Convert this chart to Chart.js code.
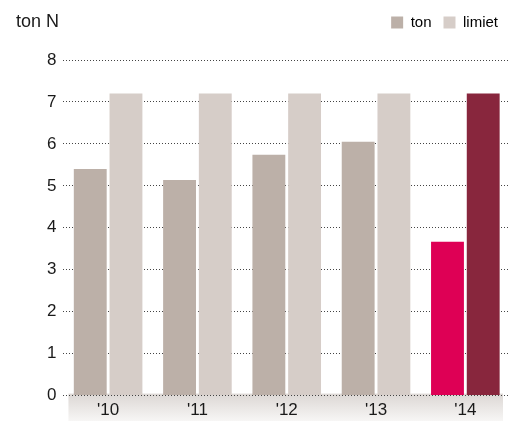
<!DOCTYPE html>
<html>
<head>
<meta charset="utf-8">
<script src="https://cdn.jsdelivr.net/npm/chart.js@4"></script>
<style>
  html, body { margin: 0; padding: 0; background: #fff; }
  #wrap { position: relative; width: 512px; height: 421px; }
  #unit { position: absolute; left: 16px; top: 11px; font: 18px "Liberation Sans", Arial, sans-serif; color: #1a1a1a; }
  canvas { display: block; }
</style>
</head>
<body>
<div id="wrap">
  <div id="unit">ton N</div>
  <canvas id="chart" width="512" height="421"></canvas>
</div>
<script>
// data
const years = ["'10", "'11", "'12", "'13", "'14"];
const ton = [5.4, 5.14, 5.74, 6.05, 3.67];
const limiet = [7.2, 7.2, 7.2, 7.2, 7.2];
const yTicks = [0, 1, 2, 3, 4, 5, 6, 7, 8];

const tonColors = ["#bcb0a8", "#bcb0a8", "#bcb0a8", "#bcb0a8", "#de0055"];
const limietColors = ["#d6cdc8", "#d6cdc8", "#d6cdc8", "#d6cdc8", "#88263d"];

const FONT = "'Liberation Sans', Arial, sans-serif";

// grey band behind the x labels
const axisBand = {
  id: "axisBand",
  beforeDraw(chart) {
    const { ctx, chartArea } = chart;
    const top = chartArea.bottom - 2;
    const g = ctx.createLinearGradient(0, top, 0, chart.height);
    g.addColorStop(0, "#dcd7d4");
    g.addColorStop(1, "#f7f6f5");
    ctx.save();
    ctx.fillStyle = g;
    ctx.fillRect(chartArea.left + 5, top, chartArea.right - chartArea.left - 12, chart.height - top);
    ctx.restore();
  }
};

// extra space under the legend
const legendGap = {
  id: "legendGap",
  beforeInit(chart) {
    const fit = chart.legend.fit;
    chart.legend.fit = function () {
      fit.bind(chart.legend)();
      this.height += 20;
    };
  }
};

new Chart(document.getElementById("chart").getContext("2d"), {
  type: "bar",
  data: {
    labels: years,
    datasets: [
      { label: "ton", data: ton, backgroundColor: tonColors },
      { label: "limiet", data: limiet, backgroundColor: limietColors }
    ]
  },
  options: {
    responsive: false,
    animation: false,
    categoryPercentage: 0.8,
    barPercentage: 0.92,
    layout: { padding: { top: 3, right: 2, left: 40, bottom: -5 } },
    plugins: {
      tooltip: { enabled: false },
      legend: {
        position: "top",
        align: "end",
        labels: {
          boxWidth: 12,
          boxHeight: 12,
          padding: 12,
          color: "#1a1a1a",
          font: { family: FONT, size: 15 },
          generateLabels: () => [
            { text: "ton", fillStyle: tonColors[0], strokeStyle: tonColors[0], lineWidth: 0, datasetIndex: 0 },
            { text: "limiet", fillStyle: limietColors[0], strokeStyle: limietColors[0], lineWidth: 0, datasetIndex: 1 }
          ]
        }
      }
    },
    scales: {
      x: {
        grid: { display: false, drawTicks: false },
        border: { display: false },
        ticks: { color: "#1a1a1a", font: { family: FONT, size: 17 }, padding: 5 }
      },
      y: {
        min: 0,
        max: 8,
        afterBuildTicks: axis => { axis.ticks = yTicks.map(v => ({ value: v })); },
        grid: { color: "#444", lineWidth: 1, drawTicks: false },
        border: { display: false, dash: [1, 2] },
        ticks: { color: "#1a1a1a", font: { family: FONT, size: 17 }, padding: 7 }
      }
    }
  },
  plugins: [axisBand, legendGap]
});
</script>
</body>
</html>
